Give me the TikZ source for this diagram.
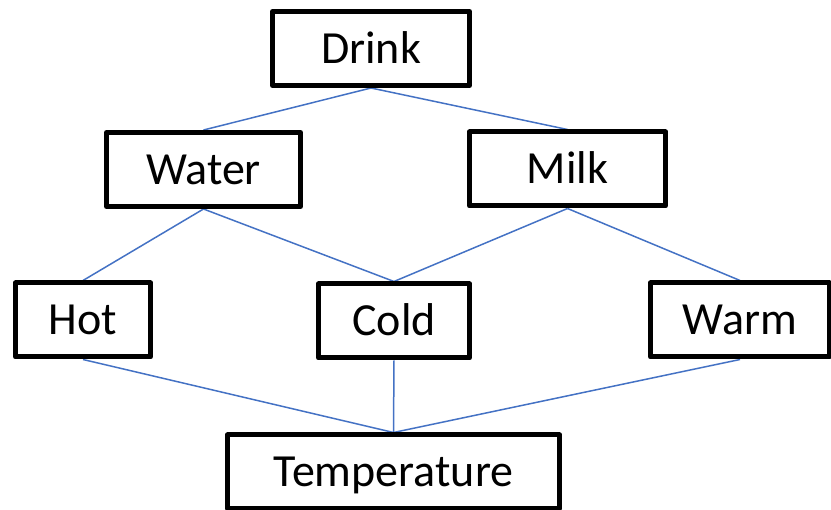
\documentclass[tikz,border=0pt]{standalone}
\usepackage{fontspec}
\setmainfont{Carlito}
\usetikzlibrary{backgrounds}
\definecolor{linkblue}{HTML}{4472C4}
\tikzset{
  box/.style={draw=black, line width=5pt, line join=round, fill=white, inner sep=0pt,
    font=\fontsize{46}{50}\selectfont, text height=30pt, text depth=0pt, minimum height=74pt},
  link/.style={draw=linkblue, line width=1.5pt}
}
\begin{document}
\begin{tikzpicture}[x=1pt,y=-1pt]
\useasboundingbox (0,0) rectangle (831,510);
\node[box, minimum width=197pt] (drink) at (371,48.5) {Drink};
\node[box, minimum width=194pt] (water) at (203.5,169.5) {Water};
\node[box, minimum width=196pt] (milk) at (567.5,169) {Milk};
\node[box, minimum width=135pt] (hot) at (83,320) {Hot};
\node[box, minimum width=151pt] (cold) at (394,321) {Cold};
\node[box, minimum width=179pt] (warm) at (740,320) {Warm};
\node[box, minimum width=332pt] (temp) at (393.5,472) {Temperature};
\begin{pgfonlayer}{background}
\draw[link] (drink.south) -- (water.north);
\draw[link] (drink.south) -- (milk.north);
\draw[link] (water.south) -- (hot.north);
\draw[link] (water.south) -- (cold.north);
\draw[link] (milk.south) -- (cold.north);
\draw[link] (milk.south) -- (warm.north);
\draw[link] (hot.south) -- (temp.north);
\draw[link] (cold.south) -- (temp.north);
\draw[link] (warm.south) -- (temp.north);
\end{pgfonlayer}
\end{tikzpicture}
\end{document}
